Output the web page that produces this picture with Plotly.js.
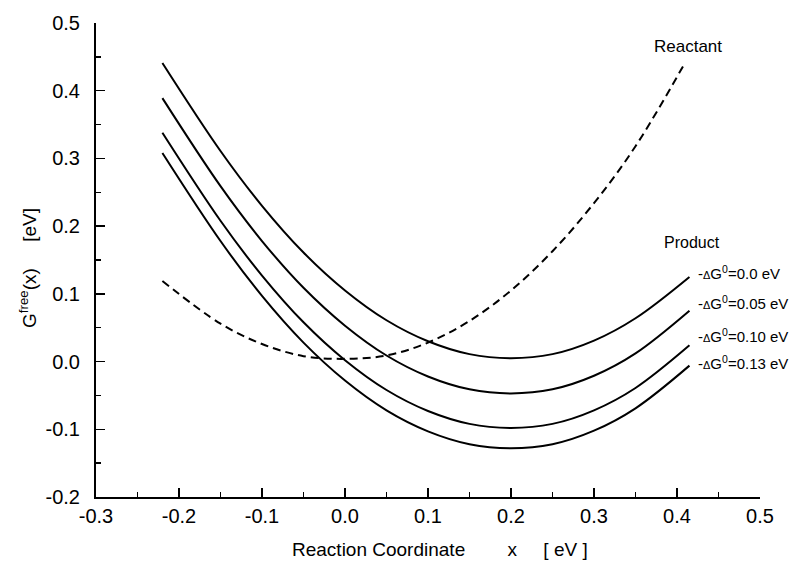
<!DOCTYPE html>
<html>
<head>
<meta charset="utf-8">
<script src="https://cdn.plot.ly/plotly-3.0.1.min.js"></script>
<style>html,body{margin:0;padding:0;background:#fff;}#chart{width:794px;height:563px;}</style>
</head>
<body>
<div id="chart"></div>
<script>
// Reaction coordinate samples (eV)
const xReactant = [-0.22, -0.15, -0.10, -0.05, 0.00, 0.05, 0.10, 0.15, 0.20, 0.25, 0.30, 0.35, 0.41];
const xProduct  = [-0.22, -0.15, -0.10, -0.05, 0.00, 0.05, 0.10, 0.15, 0.20, 0.25, 0.30, 0.35, 0.415];

// Free energy curves G(x) in eV
const gReactant = [0.119, 0.056, 0.026, 0.008, 0.004, 0.009, 0.028, 0.060, 0.105, 0.163, 0.234, 0.318, 0.442];
const gProd000  = [0.441, 0.311, 0.230, 0.161, 0.105, 0.061, 0.030, 0.011, 0.005, 0.011, 0.031, 0.064, 0.125];
const gProd005  = [0.389, 0.259, 0.178, 0.109, 0.053, 0.009, -0.022, -0.041, -0.047, -0.041, -0.021, 0.012, 0.075];
const gProd010  = [0.338, 0.208, 0.127, 0.058, 0.002, -0.042, -0.073, -0.092, -0.098, -0.092, -0.072, -0.039, 0.024];
const gProd013  = [0.308, 0.178, 0.097, 0.028, -0.028, -0.072, -0.103, -0.122, -0.128, -0.122, -0.102, -0.069, -0.006];

const productSeries = [gProd000, gProd005, gProd010, gProd013];
const productLabels = [
  "-<span style='font-size:11px'>Δ</span>G<sup>0</sup>=0.0 eV",
  "-<span style='font-size:11px'>Δ</span>G<sup>0</sup>=0.05 eV",
  "-<span style='font-size:11px'>Δ</span>G<sup>0</sup>=0.10 eV",
  "-<span style='font-size:11px'>Δ</span>G<sup>0</sup>=0.13 eV"
];

const xTicks = [-0.3, -0.2, -0.1, 0.0, 0.1, 0.2, 0.3, 0.4, 0.5];
const xTickText = ["-0.3", "-0.2", "-0.1", "0.0", "0.1", "0.2", "0.3", "0.4", "0.5"];
const yTicks = [-0.2, -0.1, 0.0, 0.1, 0.2, 0.3, 0.4, 0.5];
const yTickText = ["-0.2", "-0.1", "0.0", "0.1", "0.2", "0.3", "0.4", "0.5"];

const xTitle = 'Reaction Coordinate        x     [ eV ]';
const yTitle = 'G<sup>free</sup>(x)     [eV]';

const FONT = "Liberation Sans, Arial, sans-serif";

const traces = [{
  x: xReactant, y: gReactant, mode: 'lines', type: 'scatter',
  line: {color: '#000', width: 2, dash: '8px,5px', shape: 'spline'},
  hoverinfo: 'skip'
}];
productSeries.forEach(s => traces.push({
  x: xProduct, y: s, mode: 'lines', type: 'scatter',
  line: {color: '#000', width: 2, shape: 'spline'},
  hoverinfo: 'skip'
}));

const plotL = 96, plotR = 34, plotT = 23, plotB = 66, W = 794, H = 563;
const pw = W - plotL - plotR, ph = H - plotT - plotB;

const annotations = [
  {x: 0.413, y: 0.466, xref: 'x', yref: 'y', text: 'Reactant', showarrow: false,
   font: {family: FONT, size: 17, color: '#000'}},
  {x: 0.418, y: 0.176, xref: 'x', yref: 'y', text: 'Product', showarrow: false,
   font: {family: FONT, size: 16, color: '#000'}},
  // axis titles, placed by pixel position
  {x: (440 - plotL) / pw, y: (H - 549 - plotB) / ph, xref: 'paper', yref: 'paper',
   xanchor: 'center', yanchor: 'middle', text: xTitle, showarrow: false,
   font: {family: FONT, size: 19, color: '#000'}},
  {x: (28 - plotL) / pw, y: (H - 268 - plotB) / ph, xref: 'paper', yref: 'paper',
   xanchor: 'center', yanchor: 'middle', text: yTitle, showarrow: false, textangle: -90,
   font: {family: FONT, size: 19, color: '#000'}}
];

const labelY = [0.132, 0.087, 0.038, -0.002];
productLabels.forEach((t, i) => annotations.push({
  x: 0.423, y: labelY[i], xref: 'x', yref: 'y', text: t, showarrow: false,
  xanchor: 'left', font: {family: FONT, size: 15, color: '#000'}
}));

const layout = {
  width: W, height: H,
  margin: {l: plotL, r: plotR, t: plotT, b: plotB},
  paper_bgcolor: '#fff', plot_bgcolor: '#fff',
  showlegend: false,
  font: {family: FONT, color: '#000', size: 20},
  xaxis: {
    range: [-0.3, 0.5], tickvals: xTicks, ticktext: xTickText,
    ticks: 'inside', ticklen: 9, tickwidth: 1.5, tickcolor: '#000',
    minor: {dtick: 0.05, ticks: 'inside', ticklen: 5, tickwidth: 1.5, tickcolor: '#000', showgrid: false},
    showline: true, linecolor: '#000', linewidth: 2, mirror: false,
    showgrid: false, zeroline: false, ticklabelstandoff: 0,
    tickfont: {family: FONT, size: 20, color: '#000'}
  },
  yaxis: {
    range: [-0.2, 0.5], tickvals: yTicks, ticktext: yTickText,
    ticks: 'inside', ticklen: 9, tickwidth: 1.5, tickcolor: '#000',
    minor: {dtick: 0.05, ticks: 'inside', ticklen: 5, tickwidth: 1.5, tickcolor: '#000', showgrid: false},
    showline: true, linecolor: '#000', linewidth: 2, mirror: false,
    showgrid: false, zeroline: false, ticklabelstandoff: 10,
    tickfont: {family: FONT, size: 20, color: '#000'}
  },
  annotations: annotations
};

Plotly.newPlot('chart', traces, layout, {staticPlot: true, displayModeBar: false});
</script>
</body>
</html>
